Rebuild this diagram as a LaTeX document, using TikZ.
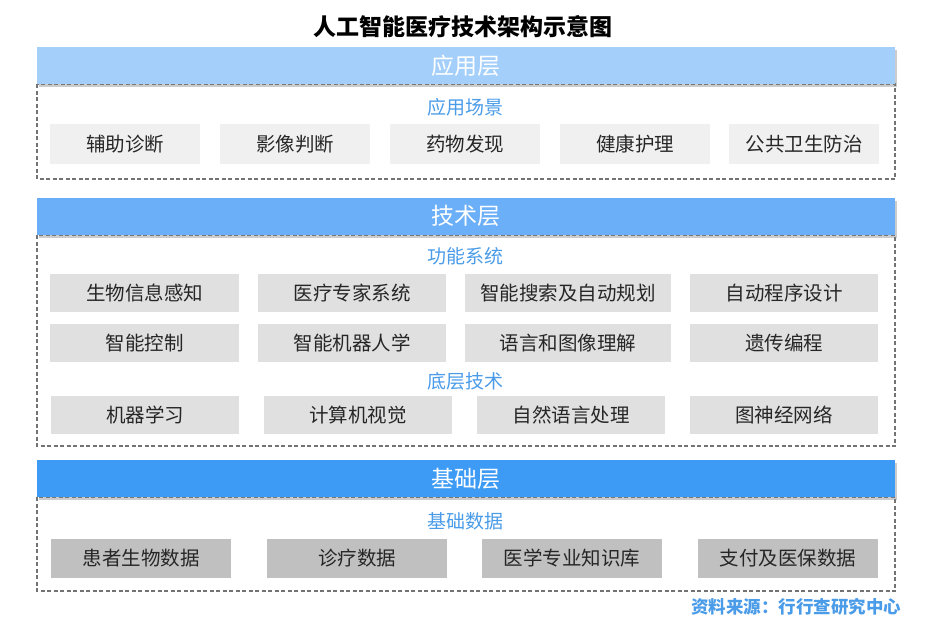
\documentclass[tikz,border=0pt]{standalone}
\usepackage{fontspec}
\setmainfont{Noto Sans CJK SC}
\usetikzlibrary{shadows}
\definecolor{bandA}{HTML}{A3CFFA}
\definecolor{bandB}{HTML}{6AAFF7}
\definecolor{bandC}{HTML}{3D9BF5}
\definecolor{boxA}{HTML}{F0F0F0}
\definecolor{boxB}{HTML}{E0E0E0}
\definecolor{boxC}{HTML}{C0C0C0}
\definecolor{labelblue}{HTML}{4A9BE8}
\begin{document}
\begin{tikzpicture}[x=1pt,y=-1pt]
            \tikzstyle{band}=[fill=#1, minimum width=858pt, minimum height=37pt, inner sep=0pt, text=white, font=\fontsize{23}{26}\selectfont, drop shadow={shadow xshift=2pt, shadow yshift=-3pt, opacity=0.4}]
            \tikzstyle{item}=[fill=#1, minimum height=38pt, inner sep=0pt, text=black!85, font=\fontsize{19.5}{22}\selectfont]
            \tikzstyle{sublabel}=[text=labelblue, font=\fontsize{19}{22}\selectfont]
            \tikzstyle{dashedbox}=[draw=black!55, line width=1.1pt, dash pattern=on 4pt off 2.5pt]
            \useasboundingbox (0,0) rectangle (930,630);
            \node[font=\fontsize{23}{26}\selectfont\bfseries] (title) at (463,27) {人工智能医疗技术架构示意图};
            % application layer
            \draw[dashedbox] (37,84) rectangle (895,179);
            \node[band=bandA] (app) at (466,65.5) {应用层};
            \node[sublabel] (appl) at (465,107) {应用场景};
            \node[item=boxA, minimum width=150pt, minimum height=40pt] (a1) at (125,144) {辅助诊断};
            \node[item=boxA, minimum width=150pt, minimum height=40pt] (a2) at (295,144) {影像判断};
            \node[item=boxA, minimum width=150pt, minimum height=40pt] (a3) at (465,144) {药物发现};
            \node[item=boxA, minimum width=150pt, minimum height=40pt] (a4) at (635,144) {健康护理};
            \node[item=boxA, minimum width=150pt, minimum height=40pt] (a5) at (804,144) {公共卫生防治};
            % technology layer
            \draw[dashedbox] (37,235) rectangle (895,446);
            \node[band=bandB] (tech) at (466,216) {技术层};
            \node[sublabel] (funcl) at (465,256) {功能系统};
            \node[item=boxB, minimum width=189pt] (f1) at (144.5,293) {生物信息感知};
            \node[item=boxB, minimum width=188pt] (f2) at (352,293) {医疗专家系统};
            \node[item=boxB, minimum width=206pt] (f3) at (568,293) {智能搜索及自动规划};
            \node[item=boxB, minimum width=188pt] (f4) at (784,293) {自动程序设计};
            \node[item=boxB, minimum width=189pt] (f5) at (144.5,343) {智能控制};
            \node[item=boxB, minimum width=188pt] (f6) at (352,343) {智能机器人学};
            \node[item=boxB, minimum width=206pt] (f7) at (568,343) {语言和图像理解};
            \node[item=boxB, minimum width=188pt] (f8) at (784,343) {遗传编程};
            \node[sublabel] (basel) at (465,381) {底层技术};
            \node[item=boxB, minimum width=188pt] (t1) at (145,415) {机器学习};
            \node[item=boxB, minimum width=188pt] (t2) at (358,415) {计算机视觉};
            \node[item=boxB, minimum width=188pt] (t3) at (571,415) {自然语言处理};
            \node[item=boxB, minimum width=188pt] (t4) at (784,415) {图神经网络};
            % foundation layer
            \draw[dashedbox] (37,497) rectangle (895,591);
            \node[band=bandC] (found) at (466,478.5) {基础层};
            \node[sublabel] (datal) at (465,521) {基础数据};
            \node[item=boxC, minimum width=180pt, minimum height=39pt] (d1) at (141,558.5) {患者生物数据};
            \node[item=boxC, minimum width=180pt, minimum height=39pt] (d2) at (357,558.5) {诊疗数据};
            \node[item=boxC, minimum width=180pt, minimum height=39pt] (d3) at (572,558.5) {医学专业知识库};
            \node[item=boxC, minimum width=180pt, minimum height=39pt] (d4) at (788,558.5) {支付及医保数据};
            \node[anchor=east, text=labelblue, font=\fontsize{17.5}{20}\selectfont\bfseries] (source) at (905,607) {资料来源：行行查研究中心};
        \end{tikzpicture}
\end{document}
